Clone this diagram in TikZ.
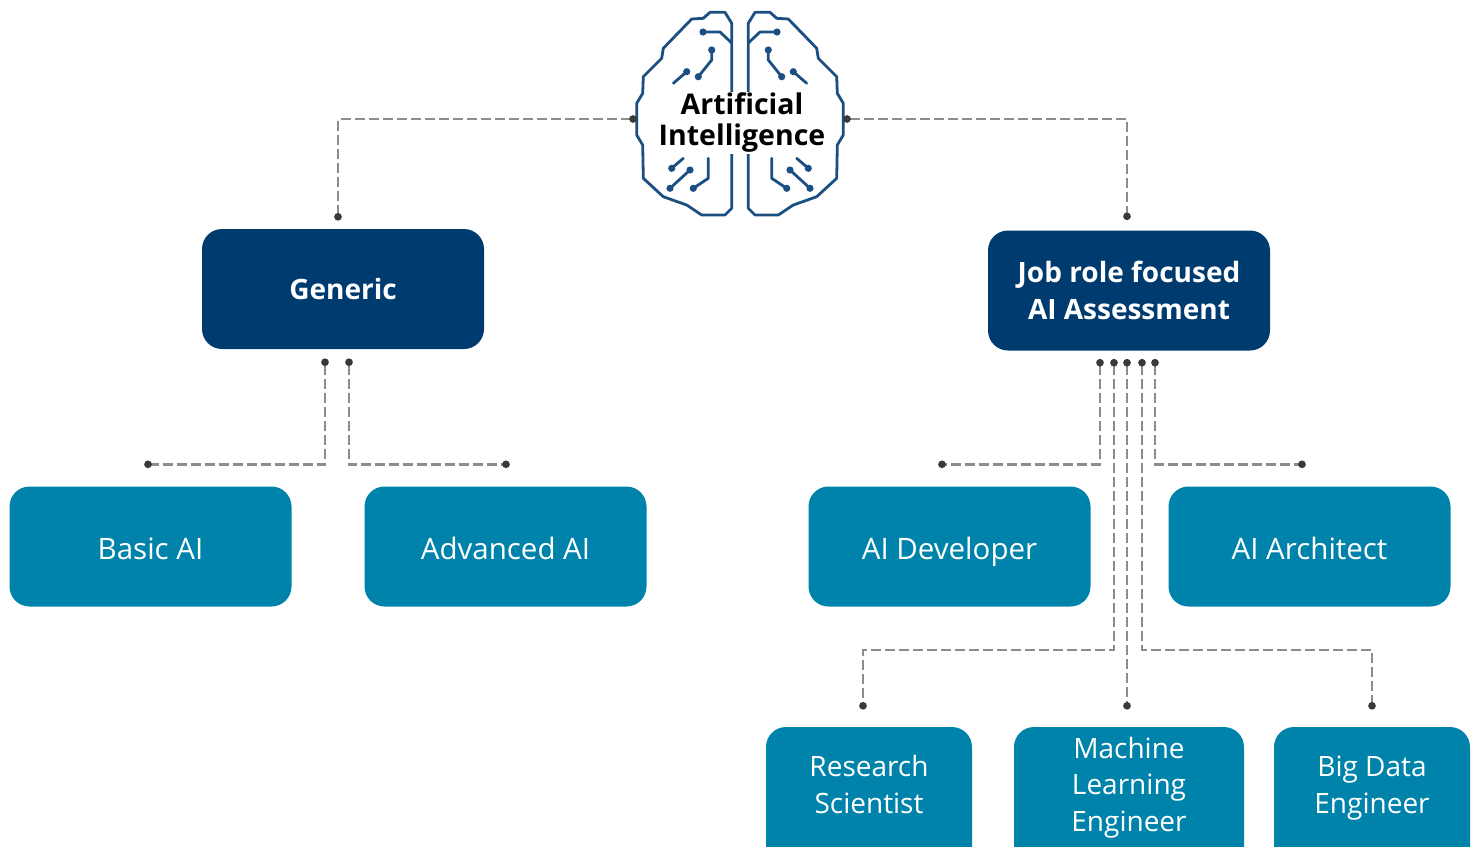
\documentclass[tikz,border=0pt]{standalone}
\usepackage{fontspec}
\setmainfont{Open Sans}
\usetikzlibrary{arrows.meta,calc}
\definecolor{navybox}{HTML}{003B6F}
\definecolor{tealbox}{HTML}{0083AA}
\definecolor{brainblue}{HTML}{1B4F82}
\definecolor{linkgray}{HTML}{8C8C8C}
\definecolor{dotgray}{HTML}{3A3A3A}

\tikzset{
  mainbox/.style={fill=navybox, rounded corners=20pt, minimum width=282pt, minimum height=120pt,
    text=white, align=center, font=\bfseries\fontsize{28}{37}\selectfont},
  rolebox/.style={fill=tealbox, rounded corners=20pt, minimum width=282pt, minimum height=120pt,
    text=white, align=center, font=\fontsize{29.5}{37}\selectfont, text height=30pt, text depth=4pt},
  subbox/.style={fill=tealbox, rounded corners=20pt, minimum height=140pt,
    text=white, align=center, font=\fontsize{28}{36.5}\selectfont, text height=40pt, text depth=8pt},
  link/.style={linkgray, line width=2.5pt, dash pattern=on 10pt off 4pt,
    {Circle[length=7.5pt,color=dotgray]}-{Circle[length=7.5pt,color=dotgray]},
    shorten <=-3.75pt, shorten >=-3.75pt},
  brainline/.style={brainblue, line width=2.8pt, line join=round, line cap=round},
  pin/.style={fill=brainblue}
}

\begin{document}
\begin{tikzpicture}[x=1pt,y=-1pt]
        \useasboundingbox (0,0) rectangle (1477,846);
        \clip (0,0) rectangle (1477,846);

        % Brain (two mirrored halves)
        \foreach \s/\o in {1/0,-1/1480}{
          \begin{scope}[xshift=\o, xscale=\s]
            \draw[brainline] (731.7,23.3) -- (725,12.3) -- (710,12.3) -- (703.3,18.3) -- (691.7,19)
              -- (663.3,48.3) -- (661.7,58.3) -- (643.3,76.7) -- (642.7,93.3) -- (636.7,103.3)
              -- (636.7,135) -- (642.7,145) -- (643.3,178.3) -- (663.3,196.7) -- (686.7,205)
              -- (701.7,215) -- (725,215) -- (731.7,208.3) -- cycle;
            % circuit traces
            \draw[brainline] (703,32) -- (720,32) -- (731.7,43);
            \draw[brainline] (711.7,50) -- (711.7,60) -- (698.3,76.7);
            \draw[brainline] (686.7,71.7) -- (673.3,83.3);
            \draw[brainline] (683.3,158.3) -- (671.7,168.3);
            \draw[brainline] (690,170) -- (670,188.3);
            \draw[brainline] (708.3,158.3) -- (708.3,178.3) -- (693.3,188.3);
            \foreach \p in {(703,32),(711.7,50),(698.3,76.7),(686.7,71.7),(671.7,168.3),(690,170),(670,188.3),(693.3,188.3)}
              \fill[pin] \p circle (3.6);
          \end{scope}
        }
        \node[fill=white, inner sep=1pt, align=center, font=\bfseries\fontsize{28.5}{31}\selectfont] (ai) at (742,123) {Artificial\\Intelligence};
        \coordinate (aiL) at (633,119);
        \coordinate (aiR) at (847,119);

        % Boxes
        \node[mainbox] (generic) at (343,289) {Generic};
        \node[mainbox] (jobrole) at (1129,290.5) {Job role focused\\AI Assessment};
        \node[rolebox] (basic) at (150.5,546.5) {Basic AI};
        \node[rolebox] (advanced) at (505.5,546.5) {Advanced AI};
        \node[rolebox] (developer) at (949.5,546.5) {AI Developer};
        \node[rolebox] (architect) at (1309.5,546.5) {AI Architect};
        \node[subbox, minimum width=206pt] (research) at (869,797) {Research\\Scientist};
        \node[subbox, minimum width=230pt, text height=76pt] (mlengineer) at (1129,797) {Machine\\Learning\\Engineer};
        \node[subbox, minimum width=196pt] (bigdata) at (1372,797) {Big Data\\Engineer};

        % Connector ends
        \coordinate (gen-in) at ($(generic.north)+(-5,-12)$);
        \coordinate (job-in) at ($(jobrole.north)+(-2,-14)$);
        \coordinate (g1) at ($(generic.south)+(-18,13)$);
        \coordinate (g2) at ($(generic.south)+(6,13)$);
        \coordinate (basic-in) at ($(basic.north)+(-2.5,-22)$);
        \coordinate (adv-in) at ($(advanced.north)+(0.5,-22)$);
        \coordinate (j1) at ($(jobrole.south)+(-29,12)$);
        \coordinate (j2) at ($(jobrole.south)+(-15,12)$);
        \coordinate (j3) at ($(jobrole.south)+(-2,12)$);
        \coordinate (j4) at ($(jobrole.south)+(13,12)$);
        \coordinate (j5) at ($(jobrole.south)+(26,12)$);
        \coordinate (dev-in) at ($(developer.north)+(-7.5,-22)$);
        \coordinate (arch-in) at ($(architect.north)+(-7.5,-22)$);
        \coordinate (rs-in) at ($(research.north)+(-6,-21)$);
        \coordinate (ml-in) at ($(mlengineer.north)+(-2,-21)$);
        \coordinate (bd-in) at ($(bigdata.north)+(0,-21)$);
        \coordinate (bus) at (0,650);

        % Connectors
        \draw[link] (aiL) -| (gen-in);
        \draw[link] (aiR) -| (job-in);
        \draw[link] (g1) |- (basic-in);
        \draw[link] (g2) |- (adv-in);
        \draw[link] (j1) |- (dev-in);
        \draw[link] (j5) |- (arch-in);
        \draw[link] (j2) -- (j2 |- bus) -| (rs-in);
        \draw[link] (j3) -- (ml-in);
        \draw[link] (j4) -- (j4 |- bus) -| (bd-in);

    \end{tikzpicture}
\end{document}
